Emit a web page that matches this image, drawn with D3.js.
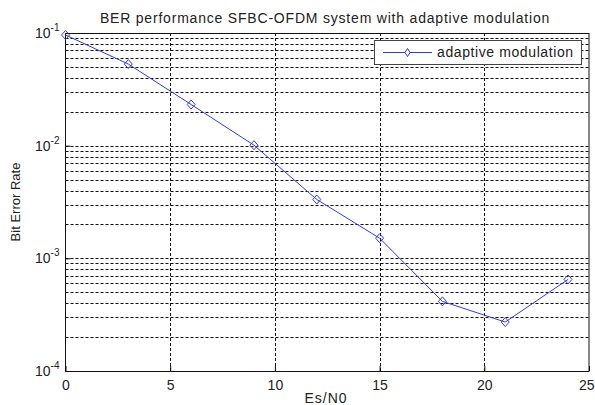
<!DOCTYPE html>
<html><head><meta charset="utf-8">
<script src="https://cdn.jsdelivr.net/npm/d3@7"></script>
<style>html,body{margin:0;padding:0;background:#fff;}svg{display:block;font-family:Arial,"Liberation Sans",sans-serif;}</style>
</head><body>
<svg id="c" width="595" height="405"></svg>
<script>
const snr = [0, 3, 6, 9, 12, 15, 18, 21, 24];
const ber = [0.096, 0.053, 0.0232, 0.0101, 0.00333, 0.00151, 0.000415, 0.000272, 0.00065];
const xTicks = [0, 5, 10, 15, 20, 25];
const yExponents = [-1, -2, -3, -4];
const title = "BER performance SFBC-OFDM system with adaptive modulation";
const xLabel = "Es/N0";
const yLabel = "Bit Error Rate";
const seriesName = "adaptive modulation";

const svg = d3.select("#c");
const L = 65.5, R = 589, T = 33, B = 371;
const x = d3.scaleLinear().domain([0, 25]).range([L, R]);
const y = d3.scaleLog().domain([1e-4, 1e-1]).range([B, T]);
const txt = "#222";

// minor + major horizontal grid
const hGrid = [];
for (let e = -4; e < -1; e++) for (let m = 1; m <= 9; m++) { const v = m * Math.pow(10, e); if (v > 1e-4 && v < 1e-1) hGrid.push(v); }
svg.append("g").selectAll("line").data(hGrid).join("line")
  .attr("x1", L).attr("x2", R)
  .attr("y1", d => Math.round(y(d)) + 0.5).attr("y2", d => Math.round(y(d)) + 0.5)
  .attr("stroke", "#111").attr("stroke-width", 1).attr("stroke-dasharray", "3,2");
svg.append("g").selectAll("line").data(xTicks.slice(1, -1)).join("line")
  .attr("x1", d => Math.round(x(d)) + 0.5).attr("x2", d => Math.round(x(d)) + 0.5)
  .attr("y1", T).attr("y2", B)
  .attr("stroke", "#111").attr("stroke-width", 1).attr("stroke-dasharray", "3,2");

// frame
svg.append("rect").attr("x", L).attr("y", T + 0.5).attr("width", R - L).attr("height", B - T)
  .attr("fill", "none").attr("stroke", "#111").attr("stroke-width", 1);

// axes ticks (inside)
const xAxis = d3.axisBottom(x).tickValues(xTicks).tickSize(-5).tickPadding(8).tickFormat(d3.format("d"));
const gx = svg.append("g").attr("transform", `translate(0,${B})`).call(xAxis);
gx.select(".domain").remove();
gx.selectAll("line").attr("stroke", "#111");
gx.selectAll("text").attr("fill", txt).attr("font-size", 14).attr("font-family", "Arial, 'Liberation Sans', sans-serif").attr("dy", "0.75em");
gx.selectAll("text").filter(d => d === 25).attr("text-anchor", "end").attr("dx", 5);

const yAxis = d3.axisLeft(y).tickValues(yExponents.map(e => Math.pow(10, e))).tickSize(-5).tickFormat("");
const gy = svg.append("g").attr("transform", `translate(${L},0)`).call(yAxis);
gy.select(".domain").remove();
gy.selectAll("line").attr("stroke", "#111");
const ylab = svg.append("g").selectAll("text").data(yExponents).join("text")
  .attr("x", L - 6).attr("y", e => y(Math.pow(10, e)) + 5)
  .attr("text-anchor", "end").attr("fill", txt).attr("font-size", 14);
ylab.append("tspan").text("10");
ylab.append("tspan").attr("dy", -7).attr("font-size", 10).text(e => String(e));

// line + markers
const line = d3.line().x((d, i) => x(snr[i])).y(d => y(d));
svg.append("path").datum(ber).attr("d", line).attr("fill", "none").attr("stroke", "#3535ff").attr("stroke-width", 1);
const diamond = (cx, cy, w, h) => `M${cx},${cy - h}L${cx + w},${cy}L${cx},${cy + h}L${cx - w},${cy}Z`;
svg.append("g").selectAll("path").data(ber).join("path")
  .attr("d", (d, i) => diamond(x(snr[i]), y(d), 4, 4.5))
  .attr("fill", "none").attr("stroke", "#3535ff").attr("stroke-width", 1);

// title and labels
svg.append("text").attr("x", 325).attr("y", 23).attr("text-anchor", "middle").attr("fill", txt)
  .attr("font-size", 14).attr("letter-spacing", 0.8).text(title);
svg.append("text").attr("x", 326).attr("y", 403).attr("text-anchor", "middle").attr("fill", txt)
  .attr("font-size", 14).attr("letter-spacing", 1).text(xLabel);
svg.append("text").attr("transform", "translate(20,202) rotate(-90)").attr("text-anchor", "middle").attr("fill", txt)
  .attr("font-size", 13).text(yLabel);

// legend
const lg = svg.append("g");
lg.append("rect").attr("x", 374.5).attr("y", 40.5).attr("width", 207).attr("height", 24)
  .attr("fill", "#fff").attr("stroke", "#444").attr("stroke-width", 1);
lg.append("line").attr("x1", 383).attr("x2", 432).attr("y1", 52.5).attr("y2", 52.5).attr("stroke", "#3535ff");
lg.append("path").attr("d", diamond(407.5, 52.5, 2.5, 4)).attr("fill", "#fff").attr("stroke", "#3535ff");
lg.append("text").attr("x", 437).attr("y", 57).attr("fill", txt).attr("font-size", 14).attr("letter-spacing", 0.6).text(seriesName);
</script>
</body></html>
